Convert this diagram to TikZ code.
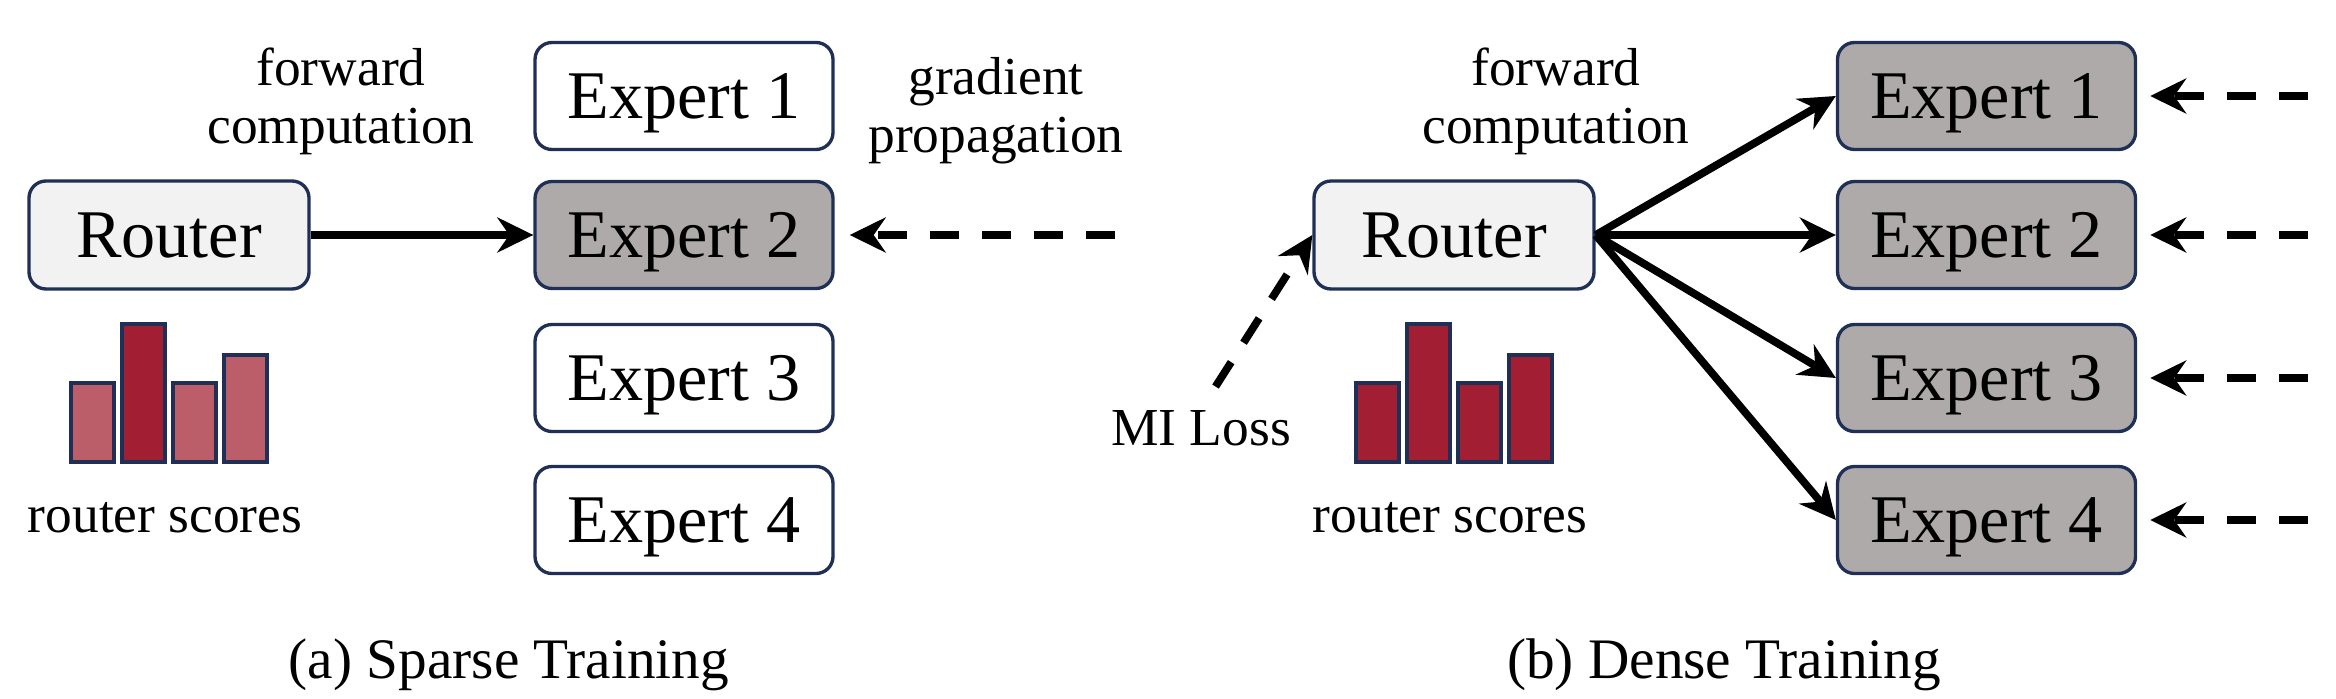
\documentclass[tikz,border=0pt]{standalone}
\usepackage{fontspec}
\setmainfont{Liberation Serif}
\usetikzlibrary{arrows.meta}

\begin{document}
\begin{tikzpicture}
    \definecolor{borderColour}{HTML}{1F2F56}
    \definecolor{routerColour}{HTML}{F2F2F2}
    \definecolor{activeColour}{HTML}{AEAAAA}
    \definecolor{scoreColour}{HTML}{A21E33}
    \definecolor{scoreColourLight}{HTML}{BC5D6A}

    \tikzset{
        box/.style={draw=borderColour, line width=0.95pt, rounded corners=0.17cm, inner sep=0pt,
            text height=12.8pt, text depth=0pt, font=\fontsize{19.4}{23}\selectfont},
        routerBox/.style={box, fill=routerColour, minimum width=2.8cm, minimum height=1.08cm},
        expertBox/.style={box, fill=white, minimum width=2.98cm, minimum height=1.07cm},
        activeBox/.style={expertBox, fill=activeColour},
        annot/.style={font=\fontsize{15.2}{16.5}\selectfont, align=center, inner sep=0pt},
        caption/.style={font=\fontsize{16.3}{19}\selectfont, inner sep=0pt},
        scoreBar/.style={draw=borderColour, line width=1.1pt},
        fwd/.style={line width=2.2pt, -{Stealth[length=0.36cm, width=0.35cm, inset=0.12cm]}},
        bwd/.style={fwd, dash pattern=on 0.29cm off 0.23cm},
    }

    \useasboundingbox (0,0) rectangle (23.36,6.98);

    % (a) Sparse training
    \node[routerBox] (rL) at (1.69,4.63) {Router};
    \node[expertBox] (eL1) at (6.84,6.02) {Expert 1};
    \node[activeBox] (eL2) at (6.84,4.63) {Expert 2};
    \node[expertBox] (eL3) at (6.84,3.20) {Expert 3};
    \node[expertBox] (eL4) at (6.84,1.78) {Expert 4};

    \node[annot] (fcL) at (3.41,5.965) {forward\\computation};
    \node[annot] (gp) at (9.96,5.87) {gradient\\propagation};

    \draw[fwd] (rL.east) -- (eL2.west);
    \path (eL2.east) ++(2.80,0) coordinate (gL);
    \draw[bwd, shorten >=0.15cm] (gL) -- (eL2.east);

    % Router scores
    \foreach \i/\h/\c in {0/0.79/scoreColourLight, 1/1.38/scoreColour, 2/0.79/scoreColourLight, 3/1.07/scoreColourLight}
        \filldraw[scoreBar, fill=\c] (0.71+0.51*\i,2.36) rectangle ++(0.43,\h);
    \node[annot, anchor=base] (rsL) at (1.65,1.66) {router scores};

    \node[caption, anchor=base] (capA) at (5.09,0.20) {(a) Sparse Training};

    % (b) Dense training
    \node[routerBox] (rR) at (14.54,4.63) {Router};
    \foreach \n/\y in {1/6.02, 2/4.63, 3/3.20, 4/1.78} {
        \node[activeBox] (eR\n) at (19.865,\y) {Expert \n};
        \draw[fwd] (rR.east) -- (eR\n.west);
        \path (eR\n.east) ++(1.71,0) coordinate (gR\n);
        \draw[bwd, shorten >=0.13cm] (gR\n) -- (eR\n.east);
    }

    \node[annot] (fcR) at (15.56,5.965) {forward\\computation};

    \node[annot, anchor=base] (mi) at (12.01,2.53) {MI Loss};
    \draw[bwd, shorten <=0.27cm] (mi.north) -- (rR.west);

    \foreach \i/\h in {0/0.79, 1/1.38, 2/0.79, 3/1.07}
        \filldraw[scoreBar, fill=scoreColour] (13.56+0.51*\i,2.36) rectangle ++(0.43,\h);
    \node[annot, anchor=base] (rsR) at (14.50,1.66) {router scores};

    \node[caption, anchor=base] (capB) at (17.24,0.20) {(b) Dense Training};

\end{tikzpicture}
\end{document}
